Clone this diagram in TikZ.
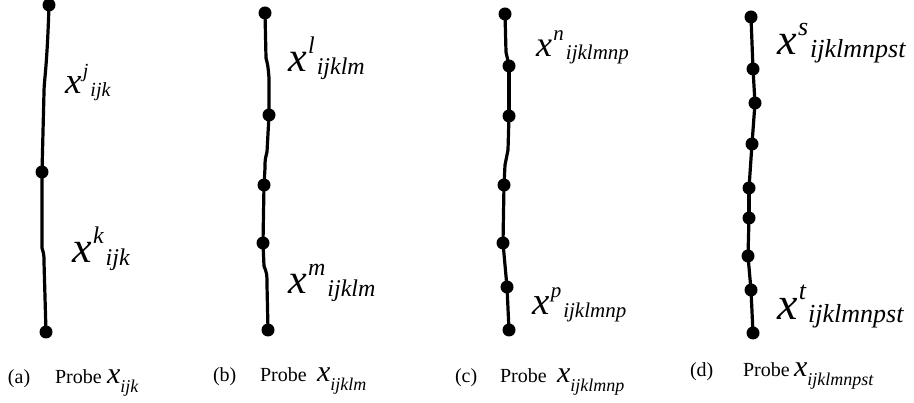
\documentclass[tikz,border=0pt]{standalone}
\usepackage{fontspec}
\setmainfont{Liberation Serif}
\newcommand{\xlab}[4]{{\fontsize{#1}{#1}\selectfont\itshape x}\kern1.5pt\raisebox{\dimexpr #1pt*45/100\relax}{\fontsize{#2}{#2}\selectfont\itshape #3}\kern2pt\raisebox{-\dimexpr #1pt*6/100\relax}{\fontsize{#2}{#2}\selectfont\itshape #4}}
\newcommand{\capx}[3]{{\fontsize{#1}{#1}\selectfont\itshape x}\raisebox{-\dimexpr #1pt*28/100\relax}{\fontsize{#2}{#2}\selectfont\itshape #3}}
\tikzset{
  dot/.style={circle,fill=black,inner sep=0pt,minimum size=13pt},
  wire/.style={line width=3.2pt,line join=round},
  lbl/.style={anchor=base west,inner sep=0pt,outer sep=0pt},
  captxt/.style={anchor=base west,inner sep=0pt,outer sep=0pt,font=\fontsize{20}{20}\selectfont}
}
\begin{document}
\begin{tikzpicture}[x=1pt,y=-1pt]
\useasboundingbox (0,0) rectangle (914,403);
% (a)
\node[dot] (a1) at (49,5) {};
\node[dot] (a2) at (42,172) {};
\node[dot] (a3) at (46,332) {};
\draw[wire] (a1.center) .. controls (47,70) and (44,80) .. (44,92) -- (a2.center);
\draw[wire] (a2.center) -- (42,248) .. controls (44,255) .. (44,262) -- (a3.center);
\node[lbl] (la1) at (65,94) {\xlab{37}{20}{j}{ijk}};
\node[lbl] (la2) at (72,263) {\xlab{44}{24}{k}{ijk}};
% (b)
\node[dot] (b1) at (265,13) {};
\node[dot] (b2) at (269,115) {};
\node[dot] (b3) at (264,185) {};
\node[dot] (b4) at (263,243) {};
\node[dot] (b5) at (268,330) {};
\draw[wire] (b1.center) -- (266,58) .. controls (268,66) .. (269,78) -- (b2.center);
\draw[wire] (b2.center) -- (267,152) .. controls (265,160) .. (265,168) -- (b3.center);
\draw[wire] (b3.center) -- (b4.center);
\draw[wire] (b4.center) -- (264,266) .. controls (267,274) .. (267,285) -- (b5.center);
\node[lbl] (lb1) at (288,72) {\xlab{42}{24}{l}{ijklm}};
\node[lbl] (lb2) at (288,294) {\xlab{42}{24}{m}{ijklm}};
% (c)
\node[dot] (c1) at (505,14) {};
\node[dot] (c2) at (509,66) {};
\node[dot] (c3) at (509,116) {};
\node[dot] (c4) at (504,185) {};
\node[dot] (c5) at (503,243) {};
\node[dot] (c6) at (507,287) {};
\node[dot] (c7) at (509,330) {};
\draw[wire] (c1.center) -- (506,52) -- (c2.center);
\draw[wire] (c2.center) -- (c3.center);
\draw[wire] (c3.center) -- (508,150) .. controls (506,158) .. (505,165) -- (c4.center);
\draw[wire] (c4.center) -- (c5.center);
\draw[wire] (c5.center) -- (c6.center);
\draw[wire] (c6.center) -- (c7.center);
\node[lbl] (lc1) at (536,57) {\xlab{36}{21}{n}{ijklmnp}};
\node[lbl] (lc2) at (532,315) {\xlab{39}{21}{p}{ijklmnp}};
% (d)
\node[dot] (d1) at (751,17) {};
\node[dot] (d2) at (753,69) {};
\node[dot] (d3) at (755,103) {};
\node[dot] (d4) at (752,144) {};
\node[dot] (d5) at (749,188) {};
\node[dot] (d6) at (749,218) {};
\node[dot] (d7) at (748,256) {};
\node[dot] (d8) at (751,290) {};
\node[dot] (d9) at (753,333) {};
\draw[wire] (d1.center) -- (d2.center);
\draw[wire] (d2.center) -- (d3.center);
\draw[wire] (d3.center) -- (d4.center);
\draw[wire] (d4.center) -- (d5.center);
\draw[wire] (d5.center) -- (d6.center);
\draw[wire] (d6.center) -- (d7.center);
\draw[wire] (d7.center) -- (d8.center);
\draw[wire] (d8.center) -- (d9.center);
\node[lbl] (ld1) at (777,55) {\xlab{44}{26}{s}{ijklmnpst}};
\node[lbl] (ld2) at (777,320) {\xlab{46}{26}{t}{ijklmnpst}};
% captions
\node[captxt] (ca) at (8,384) {(a)};
\node[captxt] (cap) at (55,384) {Probe};
\node[lbl] (cax) at (107,384) {\capx{30}{18}{ijk}};
\node[captxt] (cb) at (213,382) {(b)};
\node[captxt] (cbp) at (260,382) {Probe};
\node[lbl] (cbx) at (317,382) {\capx{30}{18}{ijklm}};
\node[captxt] (cc) at (455,383) {(c)};
\node[captxt] (ccp) at (500,383) {Probe};
\node[lbl] (ccx) at (557,383) {\capx{30}{18}{ijklmnp}};
\node[captxt] (cd) at (690,377) {(d)};
\node[captxt] (cdp) at (743,377) {Probe};
\node[lbl] (cdx) at (794,377) {\capx{30}{18}{ijklmnpst}};
\end{tikzpicture}
\end{document}
